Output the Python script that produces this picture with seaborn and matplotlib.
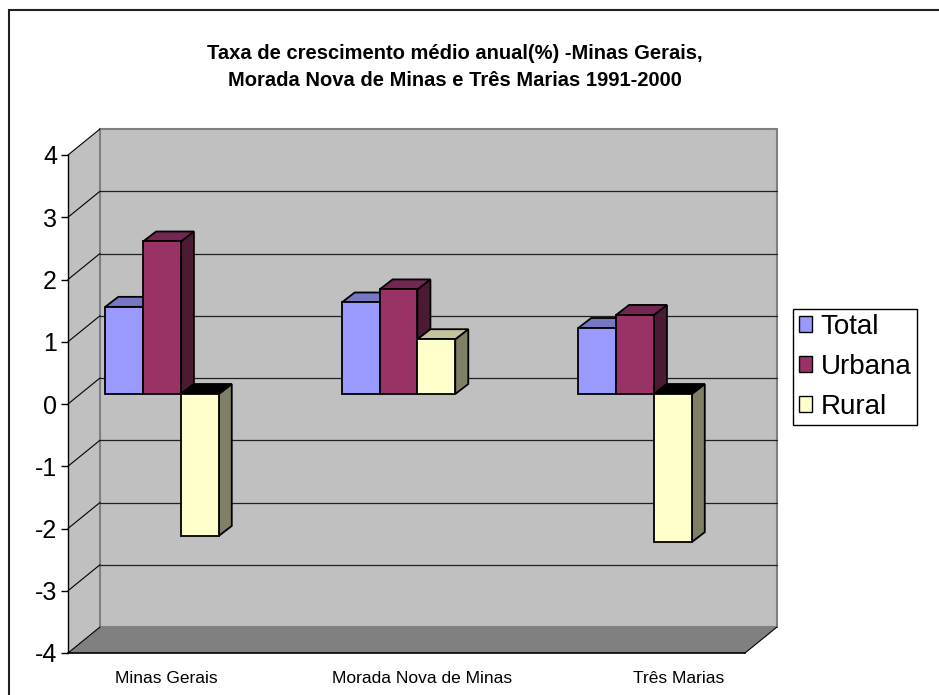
import matplotlib
matplotlib.use("Agg")
import matplotlib.pyplot as plt
import seaborn as sns
import pandas as pd
import numpy as np
from matplotlib.patches import Polygon, Patch, Rectangle
from matplotlib.lines import Line2D
from matplotlib.transforms import IdentityTransform

# ---------------- data ----------------
categories = ["Minas Gerais", "Morada Nova de Minas", "Três Marias"]
series = ["Total", "Urbana", "Rural"]
total = [1.4, 1.47, 1.06]
urbana = [2.45, 1.68, 1.27]
rural = [-2.28, 0.88, -2.38]
y_ticks = [-4, -3, -2, -1, 0, 1, 2, 3, 4]
title = "Taxa de crescimento médio anual(%) -Minas Gerais,\nMorada Nova de Minas e Três Marias 1991-2000"

face_colors = ["#9999FF", "#993366", "#FFFFCC"]
top_colors = ["#7777C4", "#73264F", "#C4C49C"]
side_colors = ["#5C5C99", "#4D1A33", "#808066"]

df = pd.DataFrame({
    "cat": np.repeat(categories, 3),
    "serie": series * 3,
    "value": [v for trio in zip(total, urbana, rural) for v in trio],
})

sns.set_theme(style="white")
plt.rcParams["font.family"] = ["Liberation Sans", "DejaVu Sans"]
plt.rcParams["text.color"] = "black"
plt.rcParams["xtick.color"] = "black"
plt.rcParams["ytick.color"] = "black"
plt.rcParams["axes.labelcolor"] = "black"

W, H = 939, 695
fig = plt.figure(figsize=(W / 100, H / 100), dpi=100)
fig.patch.set_facecolor("white")

def rect(px0, py_top, pw, ph):
    return [px0 / W, 1 - (py_top + ph) / H, pw / W, ph / H]

# front plane axes (value axis)
FX0, FY0, FW, FH = 68, 155, 677, 498
ax = fig.add_axes(rect(FX0, FY0, FW, FH))
ax.set_ylim(-4, 4)
ax.set_xlim(-0.382, 2.257)
ax.patch.set_alpha(0)
for s in ["top", "right", "bottom"]:
    ax.spines[s].set_visible(False)
ax.spines["left"].set_color("black")
ax.spines["left"].set_linewidth(1.0)
ax.set_yticks(y_ticks)
ax.set_yticklabels([str(t) for t in y_ticks], fontsize=18)
ax.tick_params(axis="y", direction="out", length=5, width=1, color="black",
               labelcolor="black", pad=3, left=True)
ax.set_xticks(range(len(categories)))
ax.set_xticklabels(categories, fontsize=12.5)
ax.tick_params(axis="x", length=0, pad=13, labelcolor="black")
ax.set_xlabel("")
ax.set_ylabel("")

# depth of the 3-D box in pixels
DX, DY = 32, 26

fig.canvas.draw()
T = ax.transData
def disp(x, y):
    return T.transform((x, y))

xl, xr = ax.get_xlim()
ident = IdentityTransform()

def poly(pts, fc, ec="none", lw=0.0, z=0.5, axes=ax):
    p = Polygon(pts, closed=True, facecolor=fc, edgecolor=ec, linewidth=lw,
                transform=ident, clip_on=False, zorder=z)
    axes.add_patch(p)
    return p

def line(p0, p1, color, lw, z=0.6, axes=ax):
    l = Line2D([p0[0], p1[0]], [p0[1], p1[1]], color=color, linewidth=lw,
               transform=ident, clip_on=False, zorder=z)
    axes.add_line(l)

bl = disp(xl, -4); br = disp(xr, -4); tl = disp(xl, 4)
off = np.array([DX, DY])
# back wall
back = [bl + off, br + off, disp(xr, 4) + off, tl + off]
poly(back, "#C0C0C0", "#808080", 1.5, z=0.2)
# left wall
poly([bl, tl, tl + off, bl + off], "#C0C0C0", "none", 0, z=0.2)
line(tl + off, bl + off, "#808080", 1.5, z=0.3)
# floor
poly([bl, br, br + off, bl + off], "#808080", "none", 0, z=0.25)
line(bl, br, "black", 1.2, z=0.4)
line(br, br + off, "black", 0.8, z=0.4)
# gridlines on back wall and left wall
for v in y_ticks[1:-1]:
    p = disp(xl, v)
    q = disp(xr, v)
    line(p + off, q + off, "#202020", 0.9, z=0.3)
for v in y_ticks:
    p = disp(xl, v)
    line(p, p + off, "black", 0.8, z=0.3)

# bar axes (bars sit partway into the depth)
BDX, BDY = 13, 10
ax_b = fig.add_axes(rect(FX0 + BDX, FY0 - BDY, FW, FH))
sns.barplot(data=df, x="cat", y="value", hue="serie", order=categories,
            hue_order=series, palette=face_colors, width=0.48, dodge=True,
            gap=0, saturation=1, edgecolor="black", linewidth=1.3,
            legend=False, errorbar=None, ax=ax_b)
ax_b.set_ylim(-4, 4)
ax_b.set_xlim(-0.3425, 2.52)
ax_b.axis("off")
ax_b.patch.set_alpha(0)
fig.canvas.draw()
TB = ax_b.transData
boff = np.array([BDX, BDY * 1.0])
for hi, cont in enumerate(ax_b.containers):
    for bar in cont.patches:
        x0 = bar.get_x(); x1 = x0 + bar.get_width()
        y0 = bar.get_y(); y1 = y0 + bar.get_height()
        ylo, yhi = min(y0, y1), max(y0, y1)
        bar.set_zorder(3 + 2 * hi)
        a = TB.transform((x0, yhi)); b = TB.transform((x1, yhi))
        c = TB.transform((x1, ylo))
        topc = top_colors[hi] if bar.get_height() >= 0 else "#000000"
        # side face
        poly([c, b, b + boff, c + boff], side_colors[hi], "black", 1.3, z=2 + 2 * hi, axes=ax_b)
        # top face
        poly([a, b, b + boff, a + boff], topc, "black", 1.3, z=2 + 2 * hi, axes=ax_b)

# title
fig.text(455 / W, 1 - 67 / H, title, ha="center", va="center", fontsize=14.5,
         fontweight="bold", linespacing=1.5, color="black")

# legend
handles = [Patch(facecolor=c, edgecolor="black", linewidth=1.0) for c in face_colors]
leg = fig.legend(handles, series, loc="center left",
                 bbox_to_anchor=(793 / W, 1 - 367 / H), frameon=True,
                 fancybox=False, framealpha=1, edgecolor="black", fontsize=20,
                 handlelength=0.5, handleheight=0.5, handletextpad=0.3,
                 labelspacing=0.5, borderpad=0.2, borderaxespad=0,
                 labelcolor="black")
leg.get_frame().set_linewidth(1.0)

# outer chart border (only top and left inside the picture)
fig.add_artist(Rectangle((9 / W, -0.05), 1.2, 1 - 10 / H + 0.05, transform=fig.transFigure,
                         fill=False, edgecolor="#202020", linewidth=1.5))

fig.savefig("out.png", dpi=100)
